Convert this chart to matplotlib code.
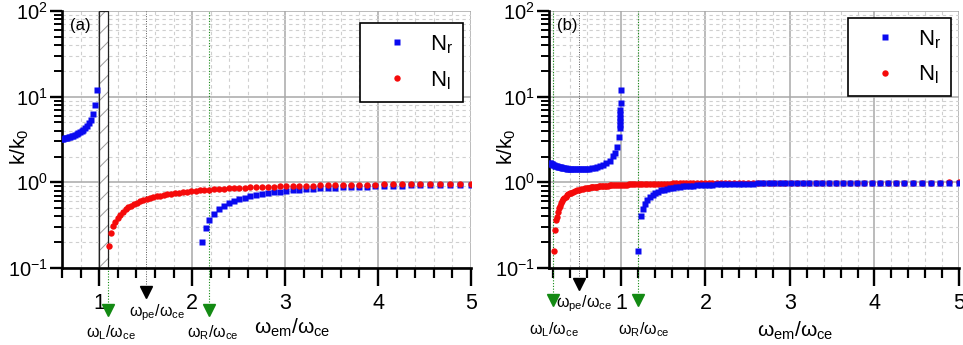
import matplotlib
matplotlib.use('Agg')
import matplotlib.pyplot as plt
import matplotlib.transforms as mtransforms
from matplotlib.patches import Rectangle
from matplotlib.ticker import MultipleLocator, LogLocator, NullFormatter

plt.rcParams['font.family'] = ['Liberation Sans', 'DejaVu Sans']
plt.rcParams['mathtext.fontset'] = 'custom'
plt.rcParams['mathtext.rm'] = 'Liberation Sans'
plt.rcParams['mathtext.it'] = 'Liberation Sans:italic'
plt.rcParams['hatch.linewidth'] = 0.7

# ---- panel (a) ----
xa_low = [0.601, 0.615, 0.629, 0.644, 0.659, 0.674, 0.690, 0.706, 0.723, 0.739, 0.757,
          0.774, 0.792, 0.811, 0.830, 0.849, 0.869, 0.889, 0.910, 0.931, 0.953, 0.975]
nr_a_low = [3.22, 3.24, 3.26, 3.29, 3.32, 3.35, 3.39, 3.44, 3.50, 3.56, 3.64,
            3.72, 3.83, 3.96, 4.12, 4.31, 4.56, 4.88, 5.34, 6.2, 8.0, 12.0]

xa_l = [1.109, 1.127, 1.150, 1.172, 1.199, 1.227, 1.256, 1.285, 1.315, 1.346, 1.377, 1.409,
        1.442, 1.476, 1.510, 1.545, 1.581, 1.618, 1.656, 1.694, 1.734, 1.774, 1.815, 1.858,
        1.901, 1.945, 1.991, 2.037, 2.084, 2.133, 2.183, 2.233, 2.285, 2.339, 2.393, 2.449,
        2.506, 2.564, 2.624, 2.685, 2.748, 2.812, 2.877, 2.944, 3.013, 3.083, 3.155, 3.228,
        3.303, 3.380, 3.459, 3.540, 3.622, 3.707, 3.793, 3.881, 3.972, 4.064, 4.159, 4.256,
        4.355, 4.456, 4.560, 4.666, 4.775, 4.886, 5.000]
nl_a = [0.18, 0.255, 0.31, 0.341, 0.383, 0.420, 0.454, 0.483, 0.511, 0.536, 0.559, 0.581,
        0.601, 0.620, 0.637, 0.654, 0.670, 0.685, 0.699, 0.712, 0.725, 0.737, 0.748, 0.759,
        0.769, 0.779, 0.789, 0.798, 0.806, 0.814, 0.822, 0.830, 0.837, 0.844, 0.850, 0.857,
        0.862, 0.868, 0.874, 0.879, 0.884, 0.889, 0.893, 0.898, 0.902, 0.906, 0.910, 0.914,
        0.917, 0.921, 0.924, 0.927, 0.930, 0.933, 0.936, 0.939, 0.941, 0.944, 0.946, 0.948,
        0.951, 0.953, 0.955, 0.957, 0.958, 0.960, 0.962]

xa_r = [2.110, 2.148, 2.183, 2.233, 2.285, 2.339, 2.393, 2.449, 2.506, 2.564, 2.624, 2.685,
        2.748, 2.812, 2.877, 2.944, 3.013, 3.083, 3.155, 3.228, 3.303, 3.380, 3.459, 3.540,
        3.622, 3.707, 3.793, 3.881, 3.972, 4.064, 4.159, 4.256, 4.355, 4.456, 4.560, 4.666,
        4.775, 4.886, 5.000]
nr_a_high = [0.20, 0.296, 0.359, 0.428, 0.483, 0.531, 0.570, 0.605, 0.635, 0.662, 0.687, 0.709,
             0.729, 0.747, 0.764, 0.779, 0.793, 0.806, 0.818, 0.829, 0.839, 0.849, 0.858, 0.866,
             0.874, 0.881, 0.887, 0.894, 0.900, 0.905, 0.910, 0.915, 0.920, 0.924, 0.928, 0.932,
             0.936, 0.939, 0.942]

# ---- panel (b) ----
xb_low = [0.1581, 0.1656, 0.1734, 0.1815, 0.1901, 0.1991, 0.2084, 0.2183, 0.2285, 0.2393,
          0.2506, 0.2624, 0.2748, 0.2877, 0.3013, 0.3155, 0.3303, 0.3459, 0.3622, 0.3793,
          0.3972, 0.4159, 0.4355, 0.4560, 0.4775, 0.5000, 0.5236, 0.5483, 0.5741, 0.601,
          0.629, 0.659, 0.690, 0.723, 0.757, 0.792, 0.830, 0.869, 0.910, 0.931, 0.953, 0.975,
          0.986, 0.988, 0.990, 0.992, 0.993, 0.994, 0.9965, 0.998]
nr_b_low = [1.697, 1.676, 1.657, 1.638, 1.620, 1.602, 1.586, 1.570, 1.555, 1.541,
            1.527, 1.514, 1.501, 1.490, 1.479, 1.469, 1.460, 1.451, 1.443, 1.436,
            1.430, 1.425, 1.420, 1.417, 1.415, 1.414, 1.415, 1.417, 1.422, 1.429,
            1.439, 1.453, 1.473, 1.499, 1.536, 1.587, 1.665, 1.788, 2.013, 2.212, 2.566, 3.355,
            4.33, 4.72, 5.16, 5.65, 6.2, 6.9, 8.4, 12.1]

xb_l = [0.2115, 0.222, 0.233, 0.2393, 0.2506, 0.2624, 0.2748, 0.2877, 0.3013, 0.3155, 0.3303,
        0.3459, 0.3622, 0.3793, 0.3972, 0.4159, 0.4355, 0.4560, 0.4775, 0.5000, 0.5236, 0.5483,
        0.5741, 0.601,
        0.615, 0.629, 0.644, 0.659, 0.674, 0.690, 0.706, 0.723, 0.739, 0.757,
        0.774, 0.792, 0.811, 0.830, 0.849, 0.869, 0.889, 0.910, 0.931, 0.953,
        0.975, 0.998, 1.021, 1.045, 1.069, 1.094, 1.119, 1.145, 1.172, 1.199,
        1.227, 1.256, 1.285, 1.315, 1.346, 1.377, 1.409, 1.442, 1.476, 1.510,
        1.545, 1.581, 1.618, 1.656, 1.694, 1.734, 1.774, 1.815, 1.858, 1.901,
        1.945, 1.991, 2.037, 2.084, 2.133, 2.183, 2.233, 2.285, 2.339, 2.393,
        2.449, 2.506, 2.564, 2.624, 2.685, 2.748, 2.812, 2.877, 2.944, 3.013,
        3.083, 3.155, 3.228, 3.303, 3.380, 3.459, 3.540, 3.622, 3.707, 3.793,
        3.881, 3.972, 4.064, 4.159, 4.256, 4.355, 4.456, 4.560, 4.666, 4.775,
        4.886, 5.000]
nl_b = [0.16, 0.28, 0.36, 0.396, 0.450, 0.495, 0.535, 0.570, 0.602, 0.631, 0.657,
        0.680, 0.702, 0.723, 0.741, 0.759, 0.775, 0.790, 0.803, 0.816, 0.829, 0.840,
        0.851, 0.860,
        0.865, 0.869, 0.874, 0.878, 0.882, 0.886, 0.890, 0.894, 0.897, 0.901,
        0.904, 0.908, 0.911, 0.914, 0.917, 0.920, 0.923, 0.925, 0.928, 0.930,
        0.933, 0.935, 0.937, 0.940, 0.942, 0.944, 0.946, 0.948, 0.950, 0.951,
        0.953, 0.955, 0.957, 0.958, 0.960, 0.961, 0.962, 0.964, 0.965, 0.966,
        0.968, 0.969, 0.970, 0.971, 0.972, 0.973, 0.974, 0.975, 0.976, 0.977,
        0.978, 0.979, 0.980, 0.980, 0.981, 0.982, 0.983, 0.983, 0.984, 0.984,
        0.985, 0.986, 0.986, 0.987, 0.987, 0.988, 0.988, 0.989, 0.989, 0.990,
        0.990, 0.990, 0.991, 0.991, 0.992, 0.992, 0.992, 0.993, 0.993, 0.993,
        0.993, 0.994, 0.994, 0.994, 0.994, 0.995, 0.995, 0.995, 0.995, 0.995,
        0.996, 0.996]

xb_r = [1.208, 1.237, 1.262,
        1.285, 1.315, 1.346, 1.377, 1.409, 1.442, 1.476, 1.510, 1.545, 1.581,
        1.618, 1.656, 1.694, 1.734, 1.774, 1.815, 1.858, 1.901, 1.945, 1.991,
        2.037, 2.084, 2.133, 2.183, 2.233, 2.285, 2.339, 2.393, 2.449, 2.506,
        2.564, 2.624, 2.685, 2.748, 2.812, 2.877, 2.944, 3.013, 3.083, 3.155,
        3.228, 3.303, 3.380, 3.459, 3.540, 3.622, 3.707, 3.793, 3.881, 3.972,
        4.064, 4.159, 4.256, 4.355, 4.456, 4.560, 4.666, 4.775, 4.886, 5.000]
nr_b_high = [0.16, 0.41, 0.49,
             0.563, 0.630, 0.681, 0.720, 0.752, 0.780, 0.803, 0.822, 0.839, 0.853,
             0.866, 0.877, 0.887, 0.896, 0.904, 0.912, 0.918, 0.924, 0.930, 0.935,
             0.939, 0.943, 0.947, 0.950, 0.954, 0.957, 0.959, 0.962, 0.964, 0.966,
             0.968, 0.970, 0.972, 0.974, 0.975, 0.977, 0.978, 0.979, 0.980, 0.981,
             0.982, 0.983, 0.984, 0.985, 0.986, 0.987, 0.987, 0.988, 0.989, 0.989,
             0.990, 0.990, 0.991, 0.991, 0.992, 0.992, 0.993, 0.993, 0.993, 0.994]

# characteristic frequencies (omega / omega_ce) marked under the axis
marks_a = {'L': 1.097, 'pe': 1.5, 'R': 2.18}
marks_b = {'L': 0.2, 'pe': 0.5, 'R': 1.2}

BLUE = '#0a0af0'
RED = '#f50a0a'
GREEN = '#138a13'

fig = plt.figure(figsize=(9.63, 3.45), dpi=100)
ax_a = fig.add_axes([62/963, 1-268/345, 409/963, 257/345])
ax_b = fig.add_axes([549/963, 1-268/345, 410/963, 257/345])


def style(ax, xmin):
    ax.set_yscale('log')
    ax.set_ylim(0.1, 100)
    ax.set_xlim(xmin, 5)
    ax.xaxis.set_major_locator(MultipleLocator(1))
    ax.xaxis.set_minor_locator(MultipleLocator(0.2))
    ax.yaxis.set_major_locator(LogLocator(base=10))
    ax.yaxis.set_minor_locator(LogLocator(base=10, subs=range(2, 10)))
    ax.yaxis.set_minor_formatter(NullFormatter())
    ax.grid(True, which='major', color='#a8a8a8', lw=1.1, ls='-')
    ax.grid(True, which='minor', color='#cfcfcf', lw=0.8, ls=(0, (3, 3)))
    ax.set_axisbelow(True)
    for s in ['top', 'right']:
        ax.spines[s].set_visible(False)
    for s in ['left', 'bottom']:
        ax.spines[s].set_linewidth(1.9)
    ax.tick_params(axis='x', which='major', direction='out', length=13, width=1.7,
                   pad=5, labelsize=15.5)
    ax.tick_params(axis='x', which='minor', direction='out', length=7, width=1.6)
    ax.tick_params(axis='y', which='major', direction='out', length=9, width=1.7,
                   pad=1, labelsize=14.5)
    ax.tick_params(axis='y', which='minor', direction='out', length=5.5, width=1.4)


def marks(ax, m, tri_y, pe_y, lab_y, pe_lab, l_lab_x, r_lab_x):
    tr = mtransforms.blended_transform_factory(ax.transData, ax.transAxes)
    for key in ['L', 'R']:
        ax.plot([m[key], m[key]], [tri_y + 0.03, 1], ls=(0, (1, 1.5)), lw=0.8,
                color=GREEN, transform=tr, clip_on=False, zorder=1.2)
        ax.plot([m[key]], [tri_y], marker='v', ms=9, color=GREEN, transform=tr,
                clip_on=False, zorder=6)
    ax.plot([m['pe'], m['pe']], [pe_y + 0.03, 1], ls=(0, (1, 1.5)), lw=0.7,
            color='#555555', transform=tr, clip_on=False, zorder=1.2)
    ax.plot([m['pe']], [pe_y], marker='v', ms=9, color='black', transform=tr,
            clip_on=False, zorder=6)
    ax.text(l_lab_x, lab_y, 'ω$_\\mathregular{L}$/ω$_\\mathregular{ce}$', transform=tr,
            ha='center', va='center', fontsize=11.5)
    ax.text(r_lab_x, lab_y, 'ω$_\\mathregular{R}$/ω$_\\mathregular{ce}$', transform=tr,
            ha='center', va='center', fontsize=11.5)
    ax.text(pe_lab[0], pe_lab[1], 'ω$_\\mathregular{pe}$/ω$_\\mathregular{ce}$', transform=tr,
            ha='center', va='center', fontsize=11.5)


def finish(ax, hb, hr, letter, leg_top, xlab):
    ax.text(0.02, 0.945, letter, transform=ax.transAxes, fontsize=12, va='center')
    ax.text(-0.103, 0.47, 'k/k$_\\mathregular{0}$', transform=ax.transAxes,
            rotation=90, fontsize=15, ha='center', va='center')
    tr = mtransforms.blended_transform_factory(ax.transData, ax.transAxes)
    ax.text(xlab[0], xlab[1], 'ω$_\\mathregular{em}$/ω$_\\mathregular{ce}$', transform=tr,
            ha='center', va='center', fontsize=15)
    leg = ax.legend([hb, hr], ['N$_\\mathregular{r}$', 'N$_\\mathregular{l}$'],
                    loc='upper right', bbox_to_anchor=(0.98, leg_top), fontsize=16,
                    frameon=True, fancybox=False, framealpha=1, edgecolor='black',
                    borderpad=0.45, labelspacing=0.6, handlelength=2.45,
                    handletextpad=0.25, borderaxespad=0)
    leg.get_frame().set_linewidth(1.2)
    leg.set_zorder(10)


# panel (a)
style(ax_a, 0.6)
tr_a = mtransforms.blended_transform_factory(ax_a.transData, ax_a.transAxes)
ax_a.add_patch(Rectangle((1.0, 0), 0.097, 1, transform=tr_a, facecolor='white',
                         edgecolor='#9a9a9a', hatch='//', lw=0, zorder=1.5))
ax_a.add_patch(Rectangle((1.0, 0), 0.097, 1, transform=tr_a, fill=False,
                         edgecolor='#222222', lw=0.9, zorder=1.6))
hb_a, = ax_a.plot(xa_low, nr_a_low, 's', color=BLUE, ms=4, mec='none', zorder=3)
ax_a.plot(xa_r, nr_a_high, 's', color=BLUE, ms=4, mec='none', zorder=3)
hr_a, = ax_a.plot(xa_l, nl_a, 'o', color=RED, ms=4.6, mec='none', zorder=4)
marks(ax_a, marks_a, tri_y=-0.163, pe_y=-0.093, lab_y=-0.253,
      pe_lab=(1.62, -0.175), l_lab_x=1.13, r_lab_x=2.22)
finish(ax_a, hb_a, hr_a, '(a)', 0.953, (3.08, -0.232))

# panel (b)
style(ax_b, 0.15)
hr_b, = ax_b.plot(xb_l, nl_b, 'o', color=RED, ms=4.6, mec='none', zorder=3)
hb_b, = ax_b.plot(xb_low, nr_b_low, 's', color=BLUE, ms=4, mec='none', zorder=4)
ax_b.plot(xb_r, nr_b_high, 's', color=BLUE, ms=4, mec='none', zorder=4)
marks(ax_b, marks_b, tri_y=-0.125, pe_y=-0.062, lab_y=-0.241,
      pe_lab=(0.564, -0.14), l_lab_x=0.21, r_lab_x=1.27)
finish(ax_b, hb_b, hr_b, '(b)', 0.973, (3.06, -0.245))

fig.savefig('out.png', dpi=100)
